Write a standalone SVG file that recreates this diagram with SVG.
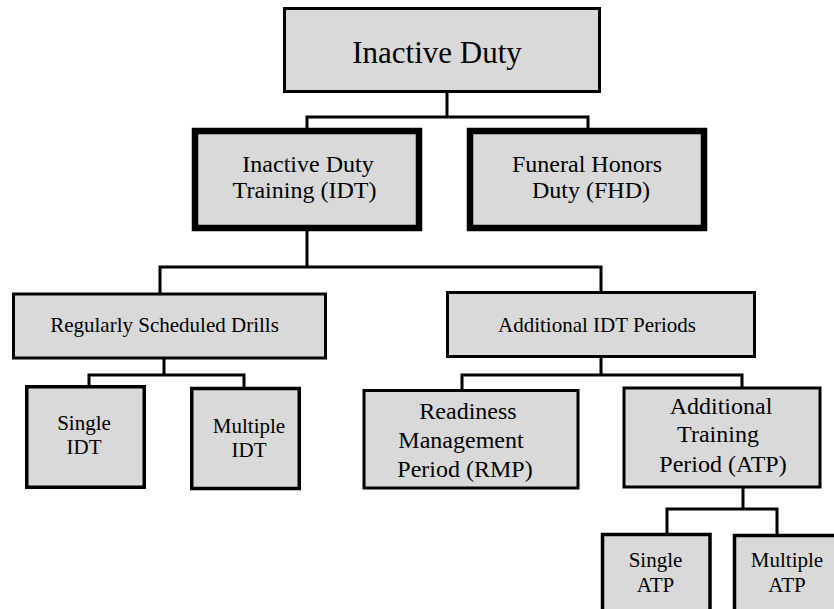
<svg xmlns="http://www.w3.org/2000/svg" width="834" height="609" viewBox="0 0 834 609">
<style>
.box{fill:#d9d9d9;stroke:#000;stroke-width:3}
.thick{stroke-width:6.5}
.mid{stroke-width:3.5}
.t{font-family:"Liberation Serif","Times New Roman",serif;fill:#000;text-anchor:middle}
.f31{font-size:31px}
.f24{font-size:24px}
.f21{font-size:21px}
.conn{fill:none;stroke:#000;stroke-width:3;stroke-linejoin:miter;stroke-linecap:square}
</style>
<rect width="834" height="609" fill="#fff"/>
<g id="connectors">
<path class="conn" d="M447 93V117M307 128V117H588V128"/>
<path class="conn" d="M307 231V267M160 292V267H601V290"/>
<path class="conn" d="M164 359V375M89 385V375H244V387"/>
<path class="conn" d="M601 358V375M462 389V375H742V387"/>
<path class="conn" d="M743 488V509M667 533V509H777V534"/>
</g>
<g id="n-inactive-duty">
<rect class="box" x="284.5" y="8.5" width="315" height="83"/>
<text class="t f31" x="437" y="63">Inactive Duty</text>
</g>
<g id="n-idt">
<rect class="box thick" x="195" y="131" width="224" height="97"/>
<text class="t f24" x="308" y="171.5">Inactive Duty</text>
<text class="t f24" x="304.5" y="198">Training (IDT)</text>
</g>
<g id="n-fhd">
<rect class="box thick" x="470" y="131" width="234" height="97"/>
<text class="t f24" x="587" y="171.5">Funeral Honors</text>
<text class="t f24" x="591" y="198">Duty (FHD)</text>
</g>
<g id="n-rsd">
<rect class="box" x="13.5" y="294" width="312" height="64"/>
<text class="t f21" x="164.5" y="331.5">Regularly Scheduled Drills</text>
</g>
<g id="n-aidt">
<rect class="box" x="447.5" y="292.5" width="307" height="64"/>
<text class="t f21" x="597" y="331.5">Additional IDT Periods</text>
</g>
<g id="n-single-idt">
<rect class="box mid" x="26.75" y="386.75" width="117.5" height="100.5"/>
<text class="t f21" x="84" y="430">Single</text>
<text class="t f21" x="84" y="454">IDT</text>
</g>
<g id="n-multiple-idt">
<rect class="box mid" x="191.75" y="388.5" width="107.5" height="100"/>
<text class="t f21" x="249" y="433">Multiple</text>
<text class="t f21" x="249" y="457">IDT</text>
</g>
<g id="n-rmp">
<rect class="box" x="364" y="390.5" width="214" height="97.5"/>
<text class="t f24" x="468" y="419">Readiness</text>
<text class="t f24" x="461" y="447.5">Management</text>
<text class="t f24" x="465" y="476.5">Period (RMP)</text>
</g>
<g id="n-atp">
<rect class="box" x="624" y="388" width="196" height="99"/>
<text class="t f24" x="721" y="413.5">Additional</text>
<text class="t f24" x="718" y="442">Training</text>
<text class="t f24" x="723" y="471.5">Period (ATP)</text>
</g>
<g id="n-single-atp">
<rect class="box mid" x="602.5" y="534.5" width="107.5" height="90"/>
<text class="t f21" x="655.5" y="566.5">Single</text>
<text class="t f21" x="655.5" y="591.5">ATP</text>
</g>
<g id="n-multiple-atp">
<rect class="box mid" x="734.5" y="535.5" width="110" height="90"/>
<text class="t f21" x="787" y="566.5">Multiple</text>
<text class="t f21" x="787" y="591.5">ATP</text>
</g>
</svg>
